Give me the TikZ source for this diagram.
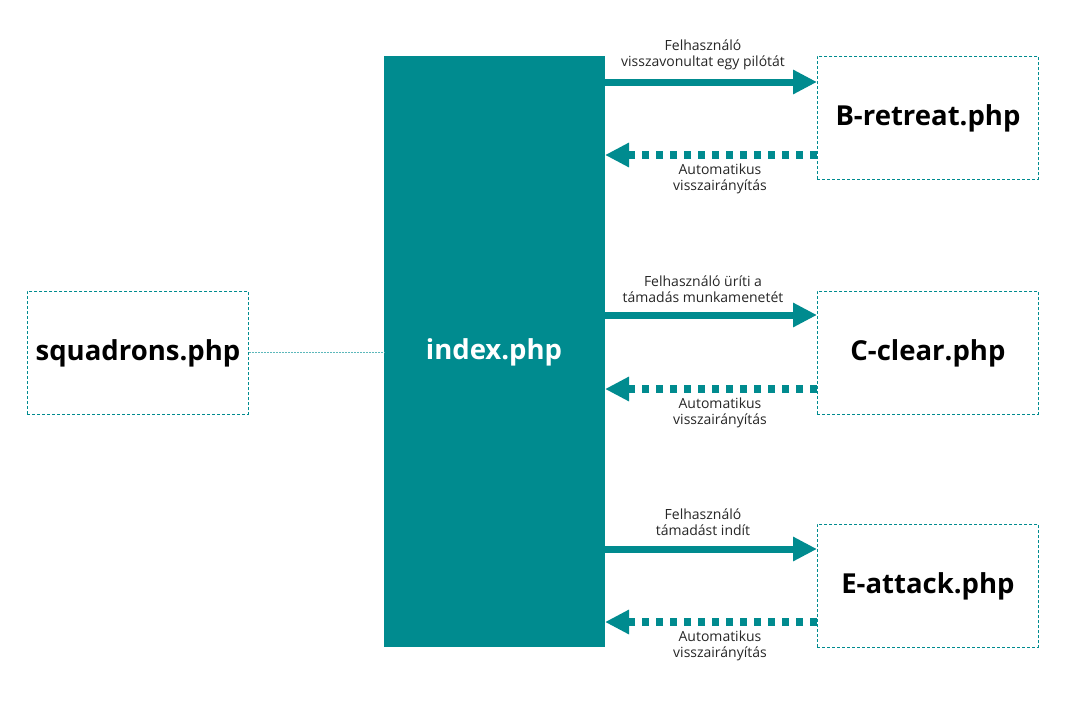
\documentclass[tikz,border=0pt]{standalone}
\usepackage{fontspec}
\setmainfont{Open Sans}
\usetikzlibrary{arrows.meta}
\definecolor{teal1}{HTML}{008B8F}
\definecolor{teal2}{HTML}{5DB8BB}
\begin{document}
\begin{tikzpicture}[x=1pt,y=-1pt,
  page/.style={draw=teal1, dashed, dash pattern=on 3pt off 2pt, line width=0.9pt, minimum width=221pt, minimum height=123pt, inner sep=0pt, font=\fontsize{27.5}{30}\selectfont\bfseries, anchor=north west},
  lbl/.style={font=\fontsize{14}{16}\selectfont, align=center, text=black!85},
  go/.style={draw=teal1, line width=7pt, -{Triangle[length=24pt,width=23pt]}},
  back/.style={draw=teal1, line width=7.5pt, dash pattern=on 7pt off 7pt, -{Triangle[length=24pt,width=23pt]}}]
\useasboundingbox (0,0) rectangle (1090,704);
\node[fill=teal1, minimum width=221pt, minimum height=591pt, inner sep=0pt, anchor=north west] (idx) at (384,56) {};
\node[text=white, font=\fontsize{27.5}{30}\selectfont\bfseries] (idxt) at (494,352) {index.php};
\node[page] (sq) at (27,291) {squadrons.php};
\node[page] (b) at (817,56) {B-retreat.php};
\node[page] (c) at (817,291) {C-clear.php};
\node[page] (e) at (817,524) {E-attack.php};
\draw[teal2, line width=1pt, dash pattern=on 2pt off 1pt] (sq.east) -- (sq.east -| idx.west);
% B
\coordinate (b1) at (605,82); \coordinate (b2) at (605,155);
\draw[go] (b1) -- (b.west |- b1);
\draw[back] (b.west |- b2) -- (b2);
\node[lbl] (lb1) at (703,55) {Felhasználó\\visszavonultat egy pilótát};
\node[lbl] (lb2) at (720,179) {Automatikus\\visszairányítás};
% C
\coordinate (c1) at (605,315); \coordinate (c2) at (605,389);
\draw[go] (c1) -- (c.west |- c1);
\draw[back] (c.west |- c2) -- (c2);
\node[lbl] (lc1) at (703,289) {Felhasználó üríti a\\támadás munkamenetét};
\node[lbl] (lc2) at (720,413) {Automatikus\\visszairányítás};
% E
\coordinate (e1) at (605,549); \coordinate (e2) at (605,622);
\draw[go] (e1) -- (e.west |- e1);
\draw[back] (e.west |- e2) -- (e2);
\node[lbl] (le1) at (703,522) {Felhasználó\\támadást indít};
\node[lbl] (le2) at (720,646) {Automatikus\\visszairányítás};
\end{tikzpicture}
\end{document}
